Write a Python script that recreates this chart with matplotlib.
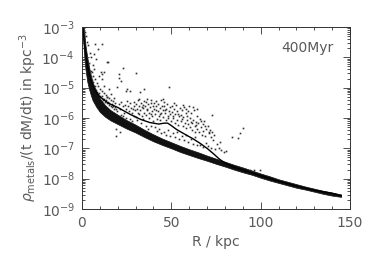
import numpy as np
import matplotlib
matplotlib.use("Agg")
import matplotlib.pyplot as plt
from matplotlib.ticker import LogLocator, MultipleLocator, NullFormatter

# dense band of gas particles (log10 of upper / lower edge) vs radius
band_r = [0.5, 1, 1.5, 2, 3, 4, 5, 6, 8, 10, 13, 16, 20, 25, 30, 35, 40, 45, 50,
          55, 60, 65, 70, 75, 80, 85, 90, 95, 100, 105, 110, 115, 120, 125, 130,
          135, 140, 145]
band_hi = [-2.9, -3.0, -3.3, -3.6, -4.0, -4.32, -4.6, -4.83, -5.12, -5.35, -5.58,
           -5.74, -5.89, -6.07, -6.22, -6.39, -6.54, -6.68, -6.8, -6.92, -7.03,
           -7.13, -7.24, -7.34, -7.44, -7.54, -7.63, -7.73, -7.83, -7.92, -8.02,
           -8.1, -8.18, -8.26, -8.33, -8.4, -8.46, -8.52]
band_lo = [-3.2, -3.7, -4.1, -4.4, -4.8, -5.05, -5.25, -5.42, -5.63, -5.8, -5.96,
           -6.08, -6.2, -6.35, -6.48, -6.63, -6.77, -6.89, -7.0, -7.12, -7.22,
           -7.32, -7.41, -7.51, -7.6, -7.7, -7.79, -7.87, -7.97, -8.06, -8.14,
           -8.22, -8.3, -8.36, -8.43, -8.5, -8.56, -8.6]

# azimuthally averaged profile (solid line)
line_r = [0.5, 1, 2, 3, 5, 7, 10, 15, 20, 27, 33, 38, 43, 46, 48, 50, 53, 58, 62,
          66, 70, 74, 77, 80, 85, 90, 100, 110, 120, 130, 140, 145]
line_lg = [-3.0, -3.3, -3.85, -4.25, -4.75, -5.05, -5.3, -5.52, -5.65, -5.88,
           -6.05, -6.15, -6.2, -6.17, -6.17, -6.25, -6.38, -6.55, -6.68, -6.83,
           -7.0, -7.2, -7.36, -7.48, -7.62, -7.71, -7.9, -8.08, -8.24, -8.38,
           -8.48, -8.56]

# scattered particles above the band
pts_r = [
    7.5, 9.0, 11.0, 6.5, 8.0, 13.8, 14.5, 10.5, 11.5, 12.5, 9.5, 11.0, 20.5, 21.0,
    23.0, 22.0, 30.0, 19.5, 24.5, 25.5, 27.0, 32.5, 34.5, 48.5, 45.5, 12.5, 15.0,
    16.5, 18.0, 14.0, 73.0, 83.8, 87.4, 88.4, 89.9, 19.0, 18.8, 21.5, 62.0, 64.5,
    60.0, 58.0, 96.0, 99.6, 94.0,
    2.5, 3.0, 3.5, 4.5, 2.0, 5.0, 6.0, 7.0, 5.8,
    3.5, 4.0, 4.6, 5.1, 5.5, 6.1, 6.4, 7.1, 7.4, 8.1, 8.6, 8.9, 9.6, 10.1, 10.4,
    11.1, 11.6, 11.9, 12.6, 13.1, 13.4, 14.1, 14.6, 15.1, 15.4, 16.1, 16.6, 17.1,
    17.4, 18.1, 18.6, 19.1, 19.6,
    4.2, 5.3, 6.2, 7.2, 8.3, 9.2, 10.3, 11.2, 12.3, 13.2, 14.3, 15.2, 16.3, 17.2,
    18.3,
    20.5, 21.2, 22.0, 22.8, 23.5, 24.2, 24.8, 21.8, 23.0, 24.5,
    25.3, 25.9, 26.4, 27.1, 27.7, 28.3, 28.9, 29.4, 29.8, 26.8, 28.0, 29.2,
    30.3, 30.8, 31.2, 31.7, 32.2, 32.6, 33.1, 33.5, 33.9, 34.3, 34.7, 31.0, 32.9,
    34.1, 30.5, 32.0, 34.9,
    35.2, 35.6, 36.0, 36.4, 36.9, 37.3, 37.7, 38.1, 38.6, 39.0, 39.4, 39.8, 35.8,
    37.0, 38.4, 39.6, 36.6, 38.9,
    40.2, 40.6, 41.0, 41.4, 41.9, 42.3, 42.7, 43.1, 43.5, 43.9, 44.3, 44.7, 40.8,
    42.0, 43.3, 44.5, 41.6, 44.0,
    45.2, 45.6, 46.0, 46.4, 46.8, 47.2, 47.6, 48.0, 48.4, 48.8, 49.2, 49.6, 45.8,
    47.0, 48.2, 49.4, 46.2,
    50.2, 50.6, 51.0, 51.4, 51.8, 52.2, 52.6, 53.0, 53.4, 53.8, 54.2, 54.6, 50.8,
    52.0, 53.2, 54.4, 51.6,
    55.2, 55.6, 56.0, 56.4, 56.8, 57.2, 57.6, 58.0, 58.4, 58.8, 59.2, 59.6, 55.8,
    57.0, 58.2, 59.4, 56.6,
    60.2, 60.6, 61.0, 61.4, 61.8, 62.2, 62.6, 63.0, 63.4, 63.8, 64.2, 64.6, 60.8,
    62.0, 63.2, 64.4,
    65.2, 65.6, 66.0, 66.5, 67.0, 67.5, 68.0, 68.5, 69.0, 69.5, 66.2, 67.8, 69.2,
    70.3, 70.9, 71.5, 72.1, 72.7, 73.3, 74.0, 70.6, 72.4, 74.3,
    75.5, 76.5, 78.0, 79.5, 80.5, 77.0,
    28.6, 31.4, 33.7, 36.2, 38.8, 41.2, 43.7, 46.6, 49.0, 51.2, 53.6, 56.2, 58.6,
    61.2, 63.6, 66.8, 68.8, 71.2,
]
pts_lg = [
    -3.55, -3.72, -3.55, -3.9, -4.05, -4.15, -4.17, -4.5, -4.55, -4.5, -4.62,
    -4.7, -4.55, -4.68, -4.35, -4.78, -4.52, -4.98, -5.1, -5.05, -5.12, -5.13,
    -5.03, -4.97, -5.38, -4.95, -5.05, -5.2, -5.35, -5.3, -5.9, -6.62, -6.67,
    -6.5, -6.34, -6.35, -6.58, -6.45, -5.65, -5.7, -5.62, -5.7, -7.7, -7.72,
    -7.72,
    -3.3, -3.5, -3.6, -3.85, -3.15, -4.0, -4.25, -4.4, -4.5,
    -4.3, -4.45, -4.52, -4.64, -4.76, -4.83, -4.9, -4.96, -5.04, -5.09, -5.14,
    -5.21, -5.17, -5.26, -5.31, -5.27, -5.36, -5.41, -5.37, -5.46, -5.41, -5.51,
    -5.47, -5.56, -5.51, -5.61, -5.54, -5.63, -5.59, -5.69, -5.64, -5.71, -5.76,
    -4.2, -4.45, -4.6, -4.72, -4.85, -4.95, -5.05, -5.1, -5.18, -5.25, -5.3,
    -5.35, -5.4, -5.45, -5.5,
    -5.55, -5.72, -5.48, -5.62, -5.85, -5.58, -5.7, -5.9, -5.95, -6.0,
    -5.45, -5.62, -5.78, -5.52, -5.68, -5.83, -5.6, -5.48, -5.75, -6.02, -6.1,
    -5.95,
    -5.55, -5.7, -5.42, -5.88, -5.6, -5.75, -5.5, -5.95, -5.67, -5.58, -5.82,
    -6.05, -6.15, -6.02, -5.98, -5.38, -5.45,
    -5.62, -5.9, -5.48, -5.75, -5.55, -5.85, -6.0, -5.65, -5.42, -5.78, -5.95,
    -5.6, -6.25, -6.35, -6.28, -6.1, -5.38, -5.52,
    -5.7, -5.5, -5.88, -5.62, -6.02, -5.78, -5.55, -5.92, -5.68, -6.08, -5.82,
    -5.6, -6.3, -6.42, -6.35, -6.5, -5.45, -5.42,
    -5.75, -5.98, -5.62, -5.85, -6.05, -5.7, -5.55, -5.92, -6.0, -5.78, -5.65,
    -6.1, -6.45, -6.55, -6.4, -6.6, -5.48,
    -5.8, -5.62, -6.0, -5.72, -6.15, -5.88, -5.58, -6.05, -5.78, -6.22, -5.95,
    -5.68, -6.5, -6.62, -6.45, -6.7, -5.5,
    -5.9, -6.1, -5.75, -6.25, -5.98, -5.65, -6.15, -5.85, -6.32, -6.05, -5.78,
    -6.2, -6.6, -6.72, -6.55, -6.8, -5.58,
    -6.0, -6.3, -5.85, -6.18, -6.4, -6.05, -5.75, -6.28, -6.45, -6.12, -5.95,
    -6.35, -6.7, -6.85, -6.62, -6.9,
    -6.15, -6.45, -6.02, -6.3, -6.55, -6.2, -6.42, -6.1, -6.6, -6.35, -6.88,
    -6.95, -6.82,
    -6.25, -6.5, -6.38, -6.62, -6.45, -6.72, -6.55, -6.92, -6.98, -7.02,
    -6.85, -7.0, -7.05, -7.12, -7.1, -6.78,
    -5.72, -5.84, -5.63, -5.71, -5.87, -5.74, -5.86, -5.73, -5.88, -5.94, -5.86,
    -6.02, -5.93, -6.12, -6.22, -6.1, -6.25, -6.45,
]

fig = plt.figure(figsize=(3.74, 2.62), dpi=100)
ax = fig.add_axes([0.219, 0.2023, 0.717, 0.6947])

ink = "#111111"
txt = "#5a5a5a"

ax.fill_between(band_r, 10.0 ** np.array(band_lo), 10.0 ** np.array(band_hi),
                color=ink, lw=0.5, edgecolor=ink)
ax.plot(pts_r, 10.0 ** np.array(pts_lg), ls="none", marker="s", ms=1.2,
        mew=0, color="#303030")
ax.plot(line_r, 10.0 ** np.array(line_lg), color="black", lw=1.0)

ax.set_yscale("log")
ax.set_xlim(0, 150)
ax.set_ylim(1e-9, 1e-3)

ax.xaxis.set_major_locator(MultipleLocator(50))
ax.xaxis.set_minor_locator(MultipleLocator(10))
ax.yaxis.set_major_locator(LogLocator(base=10, numticks=10))
ax.yaxis.set_minor_locator(LogLocator(base=10, subs=np.arange(2, 10), numticks=10))
ax.yaxis.set_minor_formatter(NullFormatter())

ax.tick_params(which="both", direction="in", top=True, right=True,
               colors="#333333", labelcolor=txt, labelsize=10, width=0.6)
ax.tick_params(which="major", length=5, pad=5)
ax.tick_params(which="minor", length=2.5)
for s in ax.spines.values():
    s.set_linewidth(0.7)
    s.set_color("#333333")

ax.set_xlabel("R / kpc", color=txt, fontsize=10, labelpad=4)
ax.set_ylabel(r"$\rho_{\rm metals}$/(t dM/dt) in kpc$^{-3}$", color=txt,
              fontsize=10, labelpad=2)
ax.text(0.937, 0.887, "400Myr", transform=ax.transAxes, ha="right",
        va="center", color=txt, fontsize=10)

fig.savefig("out.png", dpi=100)
